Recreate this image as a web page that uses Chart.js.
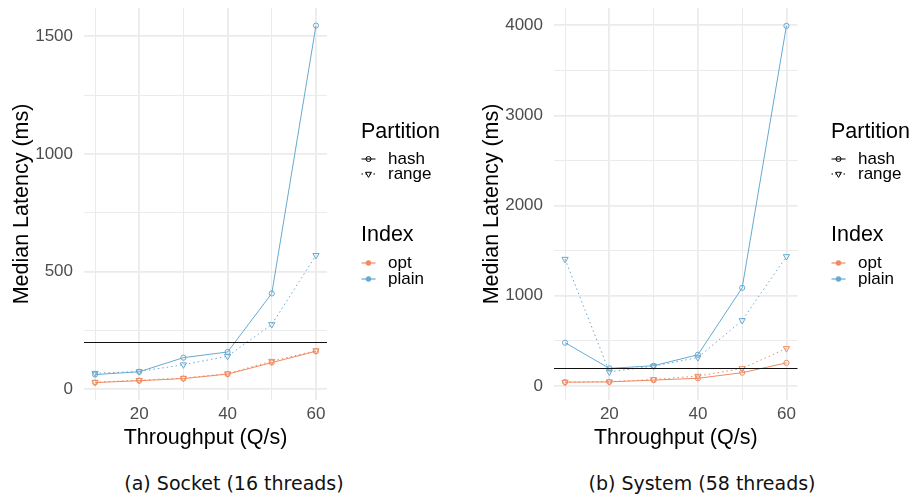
<!DOCTYPE html>
<html lang="en">
<head>
    <meta charset="UTF-8">
    <title>Median Latency vs Throughput</title>
    <style>
        body {
            margin: 0;
            padding: 0;
            background-color: white;
            width: 916px;
            height: 497px;
            position: relative;
            overflow: hidden;
        }
        canvas {
            position: absolute;
            top: 0;
        }
        #socketChart { left: 0; }
        #systemChart { left: 470px; }
        .caption {
            position: absolute;
            top: 471px;
            width: 320px;
            height: 24px;
            line-height: 24px;
            text-align: center;
            font-family: 'DejaVu Sans', sans-serif;
            font-size: 19px;
            color: #111;
        }
    </style>
</head>
<body>
    <canvas id="socketChart" width="458" height="455"></canvas>
    <canvas id="systemChart" width="446" height="455"></canvas>
    <div class="caption" style="left: 74px;">(a) Socket (16 threads)</div>
    <div class="caption" style="left: 542px;">(b) System (58 threads)</div>

    <script src="https://cdn.jsdelivr.net/npm/chart.js"></script>
    <script>
        // Throughput levels (Q/s) on the x axis
        const throughput = [10, 20, 30, 40, 50, 60];
        const xMajorTicks = [20, 40, 60];
        const xMinorTicks = [10, 30, 50];

        // (a) Socket, 16 threads - median latency in ms
        const socketOptHash = [28, 36, 45, 64, 113, 161];
        const socketOptRange = [30, 38, 47, 66, 119, 164];
        const socketPlainHash = [62, 74, 134, 158, 407, 1545];
        const socketPlainRange = [68, 75, 104, 140, 275, 569];
        const socketYMajor = [0, 500, 1000, 1500];
        const socketYMinor = [250, 750, 1250];

        // (b) System, 58 threads - median latency in ms
        const systemOptHash = [41, 44, 64, 84, 146, 255];
        const systemOptRange = [42, 46, 71, 108, 193, 415];
        const systemPlainHash = [479, 194, 223, 345, 1088, 3995];
        const systemPlainRange = [1406, 155, 219, 314, 726, 1436];
        const systemYMajor = [0, 1000, 2000, 3000, 4000];
        const systemYMinor = [500, 1500, 2500, 3500];

        // latency target drawn as a horizontal rule
        const latencyTarget = 200;

        const partitionNames = ['hash', 'range'];
        const indexNames = ['opt', 'plain'];

        const ORANGE = '#EF8A62';
        const BLUE = '#67A9CF';
        const GRID = '#EBEBEB';

        Chart.defaults.font.family = "'Liberation Sans', Arial, sans-serif";

        function series(values, color, partition) {
            const isRange = partition === 'range';
            return {
                label: partition,
                data: throughput.map((x, i) => ({ x: x, y: values[i] })),
                borderColor: color,
                borderWidth: 1,
                borderDash: isRange ? [1.5, 3] : [],
                pointStyle: isRange ? 'triangle' : 'circle',
                rotation: isRange ? 180 : 0,
                pointRadius: isRange ? 3.6 : 2.6,
                pointBorderWidth: 1,
                pointBorderColor: color,
                pointBackgroundColor: 'rgba(0,0,0,0)',
                tension: 0
            };
        }

        // small helpers for the legend glyphs
        function keyCircle(ctx, x, y, r, filled) {
            ctx.beginPath();
            ctx.arc(x, y, r, 0, Math.PI * 2);
            if (filled) ctx.fill(); else ctx.stroke();
        }

        function keyTriangle(ctx, x, y, r) {
            ctx.beginPath();
            for (let k = 0; k < 3; k++) {
                const a = Math.PI + k * 2 * Math.PI / 3;
                const px = x + Math.sin(a) * r;
                const py = y - Math.cos(a) * r;
                if (k === 0) ctx.moveTo(px, py); else ctx.lineTo(px, py);
            }
            ctx.closePath();
            ctx.stroke();
        }

        function keyLine(ctx, x, y, dashed) {
            ctx.beginPath();
            ctx.setLineDash(dashed ? [1.5, 2.5] : []);
            ctx.moveTo(x - 7, y);
            ctx.lineTo(x + 7, y);
            ctx.stroke();
            ctx.setLineDash([]);
        }

        // ggplot style legend on the right side of each panel
        const sideLegend = {
            id: 'sideLegend',
            afterDraw(chart, args, opts) {
                const ctx = chart.ctx;
                const left = opts.left;
                const keyX = left + 7.5;
                const textX = left + 27;
                ctx.save();
                ctx.textBaseline = 'middle';
                ctx.textAlign = 'left';
                ctx.fillStyle = '#000';
                ctx.font = "21.5px 'Liberation Sans', Arial, sans-serif";
                ctx.fillText('Partition', left, 132);
                ctx.fillText('Index', left, 235);

                ctx.font = "17px 'Liberation Sans', Arial, sans-serif";
                const partY = [159, 174];
                partitionNames.forEach((name, i) => {
                    ctx.fillStyle = '#000';
                    ctx.fillText(name, textX, partY[i]);
                    ctx.strokeStyle = '#000';
                    ctx.lineWidth = 1;
                    keyLine(ctx, keyX, partY[i], name === 'range');
                    if (name === 'range') keyTriangle(ctx, keyX, partY[i], 3.4);
                    else keyCircle(ctx, keyX, partY[i], 2.5, false);
                });

                const idxY = [263, 279];
                indexNames.forEach((name, i) => {
                    const c = name === 'opt' ? ORANGE : BLUE;
                    ctx.fillStyle = '#000';
                    ctx.fillText(name, textX, idxY[i]);
                    ctx.strokeStyle = c;
                    ctx.fillStyle = c;
                    ctx.lineWidth = 1.2;
                    keyLine(ctx, keyX, idxY[i], false);
                    keyCircle(ctx, keyX, idxY[i], 2.7, true);
                });
                ctx.restore();
            }
        };

        // horizontal latency target line across the panel
        const targetLine = {
            id: 'targetLine',
            afterDatasetsDraw(chart) {
                const { ctx, chartArea, scales } = chart;
                const y = Math.round(scales.y.getPixelForValue(latencyTarget)) + 0.5;
                ctx.save();
                ctx.strokeStyle = '#111';
                ctx.lineWidth = 1.1;
                ctx.beginPath();
                ctx.moveTo(chartArea.left, y);
                ctx.lineTo(chartArea.right, y);
                ctx.stroke();
                ctx.restore();
            }
        };

        function drawPanel(canvasId, datasets, yMin, yMax, yMajor, yMinor, padRight) {
            const yTicks = yMajor.concat(yMinor).sort((a, b) => a - b);
            const xTicks = xMajorTicks.concat(xMinorTicks).sort((a, b) => a - b);
            const ctx = document.getElementById(canvasId).getContext('2d');
            new Chart(ctx, {
                type: 'line',
                data: { datasets: datasets },
                plugins: [targetLine, sideLegend],
                options: {
                    responsive: false,
                    animation: false,
                    layout: { padding: { top: 8, right: padRight, left: 0, bottom: 0 } },
                    plugins: {
                        legend: { display: false },
                        tooltip: { enabled: false },
                        sideLegend: { left: 361 }
                    },
                    scales: {
                        x: {
                            type: 'linear',
                            min: 7.5,
                            max: 62.5,
                            afterBuildTicks: scale => { scale.ticks = xTicks.map(v => ({ value: v })); },
                            afterFit: scale => {
                                scale.height = 55;
                                scale.paddingLeft = 0;
                                scale.paddingRight = 0;
                            },
                            border: { display: false },
                            grid: {
                                drawTicks: false,
                                color: GRID,
                                lineWidth: c => xMajorTicks.includes(c.tick.value) ? 1.8 : 1
                            },
                            ticks: {
                                autoSkip: false,
                                maxRotation: 0,
                                padding: 4,
                                color: '#4D4D4D',
                                font: { size: 17 },
                                callback: v => xMajorTicks.includes(v) ? String(v) : ''
                            },
                            title: {
                                display: true,
                                text: 'Throughput (Q/s)',
                                color: '#000',
                                font: { size: 21.5 },
                                padding: { top: 0, bottom: 4 }
                            }
                        },
                        y: {
                            type: 'linear',
                            min: yMin,
                            max: yMax,
                            afterBuildTicks: scale => { scale.ticks = yTicks.map(v => ({ value: v })); },
                            afterFit: scale => {
                                scale.width = 84;
                                scale.paddingTop = 0;
                                scale.paddingBottom = 0;
                            },
                            border: { display: false },
                            grid: {
                                drawTicks: false,
                                color: GRID,
                                lineWidth: c => yMajor.includes(c.tick.value) ? 1.8 : 1
                            },
                            ticks: {
                                autoSkip: false,
                                padding: 11,
                                color: '#4D4D4D',
                                font: { size: 17 },
                                callback: v => yMajor.includes(v) ? String(v) : ''
                            },
                            title: {
                                display: true,
                                text: 'Median Latency (ms)',
                                color: '#000',
                                font: { size: 21.5 },
                                padding: { top: 9, bottom: 0 }
                            }
                        }
                    }
                }
            });
        }

        drawPanel('socketChart', [
            series(socketPlainHash, BLUE, 'hash'),
            series(socketPlainRange, BLUE, 'range'),
            series(socketOptHash, ORANGE, 'hash'),
            series(socketOptRange, ORANGE, 'range')
        ], -46, 1620, socketYMajor, socketYMinor, 131);

        drawPanel('systemChart', [
            series(systemPlainHash, BLUE, 'hash'),
            series(systemPlainRange, BLUE, 'range'),
            series(systemOptHash, ORANGE, 'hash'),
            series(systemOptRange, ORANGE, 'range')
        ], -157, 4193, systemYMajor, systemYMinor, 118.5);
    </script>
</body>
</html>
